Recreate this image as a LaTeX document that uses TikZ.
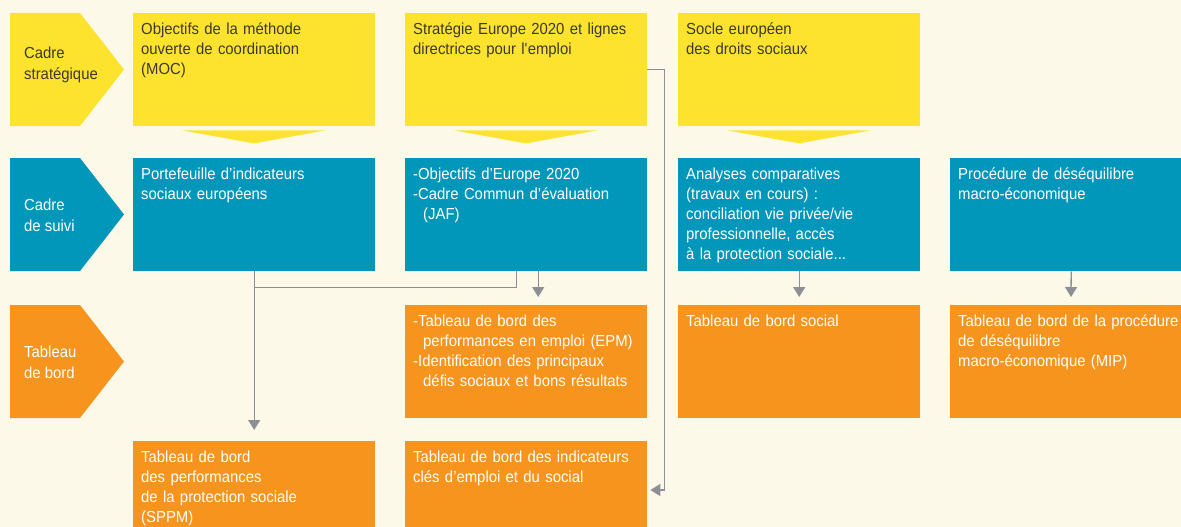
\documentclass[tikz,border=0pt]{standalone}
\usepackage{fontspec}
\setmainfont{Liberation Sans}[FakeStretch=0.93]
\usetikzlibrary{arrows.meta}
\usetikzlibrary{calc}

\definecolor{fond}{HTML}{FDF9E9}
\definecolor{jaune}{HTML}{FDE32E}
\definecolor{bleu}{HTML}{0097BB}
\definecolor{orangeTB}{HTML}{F7941E}
\definecolor{gris}{HTML}{8E8E96}
\definecolor{encre}{HTML}{3B382E}

\tikzset{
  boite/.style={anchor=north west, inner xsep=8pt, inner ysep=9pt,
    text width=226pt, text height=12pt, text depth=83pt, align=left,
    font=\fontsize{16}{20}\selectfont},
  etiq/.style={anchor=west, inner sep=0pt, align=left,
    font=\fontsize{16}{21}\selectfont},
  lien/.style={draw=gris, line width=1.3pt},
  fleche/.style={lien, -{Triangle[width=12pt,length=10pt]}},
}

\begin{document}
\begin{tikzpicture}[x=1pt,y=-1pt]
    \useasboundingbox (0,0) rectangle (1181,527);
    \fill[fond] (0,0) rectangle (1181,527);
    \clip (0,0) rectangle (1181,527);

    % row headers
    \foreach \y/\c in {13/jaune,158/bleu,305/orangeTB}
        \fill[\c] (10,\y) -- ++(70,0) -- ++(44,56.5) -- ++(-44,56.5) -- ++(-70,0) -- cycle;
    \node[etiq, text=encre] (lstrat) at (24,65) {Cadre\\stratégique};
    \node[etiq, text=white] (lsuivi) at (24,215) {Cadre\\de suivi};
    \node[etiq, text=white] (ltab) at (24,362) {Tableau\\de bord};

    % cadre strategique
    \node[boite, fill=jaune, text=encre] (moc) at (133,13) {Objectifs de la méthode\\ouverte de coordination\\(MOC)};
    \node[boite, fill=jaune, text=encre] (strat) at (405,13) {Stratégie Europe 2020 et lignes\\directrices pour l\textquotesingle emploi};
    \node[boite, fill=jaune, text=encre] (socle) at (678,13) {Socle européen\\des droits sociaux};
    \foreach \b in {moc,strat,socle}
        \fill[jaune] ($(\b.south)+(-72,4)$) -- ($(\b.south)+(71,4)$) -- ($(\b.south)+(0,17)$) -- cycle;

    % cadre de suivi
    \node[boite, fill=bleu, text=white] (port) at (133,158) {Portefeuille d’indicateurs\\sociaux européens};
    \node[boite, fill=bleu, text=white] (jaf) at (405,158) {-Objectifs d’Europe 2020\\-Cadre Commun d’évaluation\\\hspace*{10pt}(JAF)};
    \node[boite, fill=bleu, text=white] (analyses) at (678,158) {Analyses comparatives\\(travaux en cours) :\\conciliation vie privée/vie\\professionnelle, accès\\à la protection sociale...};
    \node[boite, fill=bleu, text=white] (mip) at (950,158) {Procédure de déséquilibre\\macro-économique};

    % tableaux de bord
    \node[boite, fill=orangeTB, text=white] (epm) at (405,305) {-Tableau de bord des\\\hspace*{10pt}performances en emploi (EPM)\\-Identification des principaux\\\hspace*{10pt}défis sociaux et bons résultats};
    \node[boite, fill=orangeTB, text=white] (social) at (678,305) {Tableau de bord social};
    \node[boite, fill=orangeTB, text=white, text width=260pt] (tbmip) at (950,305) {Tableau de bord de la procédure\\de déséquilibre\\macro-économique (MIP)};
    \node[boite, fill=orangeTB, text=white] (sppm) at (133,441) {Tableau de bord\\des performances\\de la protection sociale\\(SPPM)};
    \node[boite, fill=orangeTB, text=white] (cles) at (405,441) {Tableau de bord des indicateurs\\clés d’emploi et du social};

    % liens
    \coordinate (jonction) at ($(port.south)+(0,16)$);
    \draw[fleche] (port.south) -- ([yshift=11pt]sppm.north);
    \draw[lien] ([xshift=-10pt]jaf.south) |- (jonction);
    \draw[fleche] ([xshift=12pt]jaf.south) -- ([xshift=12pt,yshift=8pt]epm.north);
    \draw[fleche] (analyses.south) -- ([yshift=8pt]social.north);
    \draw[fleche] (mip.south) -- ([xshift=121pt,yshift=8pt]tbmip.north west);
    \draw[fleche] (strat.east) -- ++(17,0) |- ([xshift=3pt,yshift=-49pt]cles.north east);
\end{tikzpicture}
\end{document}
